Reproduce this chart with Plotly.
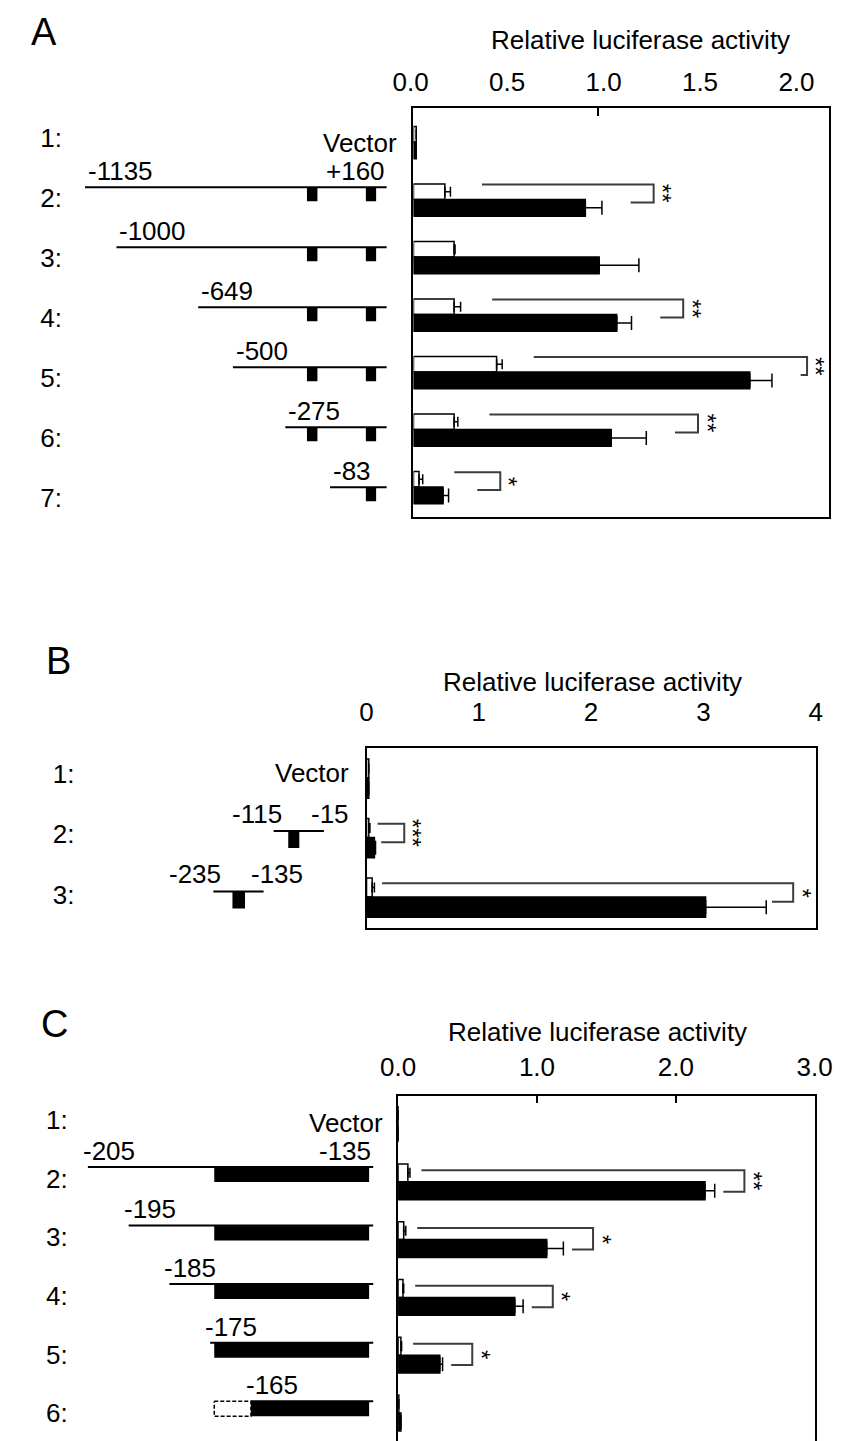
import plotly.graph_objects as go

W, H = 848, 1441
FONT = "Liberation Sans, Arial, sans-serif"

# ---------------- data ----------------
# Panel A
A_rows = [1, 2, 3, 4, 5, 6, 7]
A_row_labels = ["1:", "2:", "3:", "4:", "5:", "6:", "7:"]
A_open = [0.015, 0.17, 0.22, 0.22, 0.45, 0.22, 0.03]
A_open_err = [0.0, 0.03, 0.005, 0.035, 0.03, 0.02, 0.02]
A_black = [0.015, 0.93, 1.005, 1.10, 1.82, 1.07, 0.16]
A_black_err = [0.0, 0.09, 0.215, 0.08, 0.12, 0.19, 0.03]
A_sig_rows = [2, 4, 5, 6, 7]
A_sig_marks = ["**", "**", "**", "**", "*"]
A_construct_rows = [2, 3, 4, 5, 6, 7]
A_construct_start = [-1135, -1000, -649, -500, -275, -83]
A_construct_end = 160
A_element_start = [-182, 71]
A_element_end = [-137, 115]
A_ticks = [0.0, 0.5, 1.0, 1.5, 2.0]
A_tick_labels = ["0.0", "0.5", "1.0", "1.5", "2.0"]

# Panel B
B_rows = [1, 2, 3]
B_row_labels = ["1:", "2:", "3:"]
B_open = [0.02, 0.02, 0.05]
B_open_err = [0.0, 0.01, 0.02]
B_black = [0.02, 0.07, 3.02]
B_black_err = [0.0, 0.01, 0.54]
B_sig_rows = [2, 3]
B_sig_marks = ["***", "*"]
B_construct_rows = [2, 3]
B_construct_start = [-115, -235]
B_construct_end = [-15, -135]
B_element_start = [-86, -197]
B_element_end = [-64, -172]
B_ticks = [0, 1, 2, 3, 4]
B_tick_labels = ["0", "1", "2", "3", "4"]

# Panel C
C_rows = [1, 2, 3, 4, 5, 6]
C_row_labels = ["1:", "2:", "3:", "4:", "5:", "6:"]
C_open = [0.0, 0.07, 0.04, 0.035, 0.02, 0.005]
C_open_err = [0.0, 0.015, 0.015, 0.005, 0.005, 0.0]
C_black = [0.0, 2.21, 1.07, 0.84, 0.30, 0.02]
C_black_err = [0.0, 0.07, 0.12, 0.06, 0.02, 0.0]
C_sig_rows = [2, 3, 4, 5]
C_sig_marks = ["**", "*", "*", "*"]
C_construct_rows = [2, 3, 4, 5, 6]
C_construct_start = [-205, -195, -185, -175, -165]
C_construct_end = -135
C_element_start = -174
C_element_end = -136
C_ticks = [0, 1, 2, 3]
C_tick_labels = ["0.0", "1.0", "2.0", "3.0"]

AXIS_TITLE = "Relative luciferase activity"


def px_x(p):
    return p / W


def px_y(p):
    return 1 - p / H


fig = go.Figure()
annotations = []


def add_bars(xa, ya, rows, opn, opn_err, blk, blk_err, h_open, h_black):
    fig.add_trace(go.Bar(
        orientation="h", y=rows, x=opn, xaxis=xa, yaxis=ya,
        offset=-h_open, width=h_open,
        marker=dict(color="white", line=dict(color="black", width=1.5)),
        error_x=dict(type="data", array=opn_err, arrayminus=[0] * len(rows),
                     symmetric=False, color="black", thickness=1.5, width=5),
        hoverinfo="skip"))
    fig.add_trace(go.Bar(
        orientation="h", y=rows, x=blk, xaxis=xa, yaxis=ya,
        offset=0, width=h_black,
        marker=dict(color="black", line=dict(color="black", width=1.5)),
        error_x=dict(type="data", array=blk_err, arrayminus=[0] * len(rows),
                     symmetric=False, color="black", thickness=1.5, width=7),
        hoverinfo="skip"))


def add_brackets(xa, ya, rows, opn, opn_err, blk, blk_err, sig_rows, sig_marks,
                 ppu, gap_top, gap_right, gap_bot, y_top, y_bot, xcap, star_dx=15):
    xs, ys = [], []
    for r, mark in zip(sig_rows, sig_marks):
        i = rows.index(r)
        ot = opn[i] + opn_err[i]
        bt = blk[i] + blk_err[i]
        xl = ot + gap_top / ppu
        xr = min(bt + gap_right / ppu, xcap)
        xb = bt + gap_bot / ppu
        xs += [xl, xr, xr, xb, None]
        ys += [r + y_top, r + y_top, r + y_bot, r + y_bot, None]
        # stars stacked vertically (text rotated by 90 degrees)
        annotations.append(dict(
            text=mark, x=xr, y=r + (y_top + y_bot) / 2, textangle=90,
            xref=xa, yref=ya, xshift=star_dx - 6, yshift=0,
            showarrow=False, font=dict(size=24, color="black", family=FONT),
            xanchor="center", yanchor="middle"))
    fig.add_trace(go.Scatter(x=xs, y=ys, xaxis=xa, yaxis=ya, mode="lines",
                             line=dict(color="#3c3c3c", width=2),
                             hoverinfo="skip"))


def add_lines(xa, ya, rows, starts, ends, off):
    xs, ys = [], []
    for r, s, e in zip(rows, starts, ends):
        xs += [s, e, None]
        ys += [r + off, r + off, None]
    fig.add_trace(go.Scatter(x=xs, y=ys, xaxis=xa, yaxis=ya, mode="lines",
                             line=dict(color="black", width=2), hoverinfo="skip"))


def add_boxes(xa, ya, rows, bases, lens, off, h):
    fig.add_trace(go.Bar(orientation="h", y=rows, x=lens, base=bases,
                         xaxis=xa, yaxis=ya, offset=off, width=h,
                         marker=dict(color="black", line=dict(width=0)),
                         hoverinfo="skip"))


def label(text, x, y, xref, yref, xanchor, xshift=0, yshift=0, size=26):
    annotations.append(dict(text=text, x=x, y=y, xref=xref, yref=yref,
                            xanchor=xanchor, yanchor="middle", xshift=xshift,
                            yshift=yshift, showarrow=False,
                            font=dict(size=size, color="black", family=FONT)))


# ---------------- Panel A ----------------
add_bars("x2", "y2", A_rows, A_open, A_open_err, A_black, A_black_err, 0.27, 0.29)
add_brackets("x2", "y2", A_rows, A_open, A_open_err, A_black, A_black_err,
             A_sig_rows, A_sig_marks, 193.0, 33, 54, 30, -0.26, 0.05, 2.13)
A_off = -0.18
add_lines("x", "y", A_construct_rows, A_construct_start,
          [A_construct_end] * len(A_construct_rows), A_off)
bx_r, bx_b, bx_l = [], [], []
for r, s in zip(A_construct_rows, A_construct_start):
    for es, ee in zip(A_element_start, A_element_end):
        if s <= es:
            bx_r.append(r); bx_b.append(es); bx_l.append(ee - es)
add_boxes("x", "y", bx_r, bx_b, bx_l, A_off, 0.235)
for r, s in zip(A_construct_rows, A_construct_start):
    label(str(s), s, r + A_off, "x", "y", "left", xshift=1, yshift=16)
label("+%d" % A_construct_end, A_construct_end, A_construct_rows[0] + A_off,
      "x", "y", "right", yshift=16)
label("Vector", px_x(398), 1, "paper", "y", "right", yshift=-5)
# invisible trace for the tick-label axis of panel A
fig.add_trace(go.Scatter(x=[None], y=[None], xaxis="x3", yaxis="y2",
                         mode="markers", hoverinfo="skip"))

# ---------------- Panel B ----------------
add_bars("x5", "y5", B_rows, B_open, B_open_err, B_black, B_black_err, 0.32, 0.34)
add_brackets("x5", "y5", B_rows, B_open, B_open_err, B_black, B_black_err,
             B_sig_rows, B_sig_marks, 117.25, 8, 30, 6, -0.23, 0.08, 3.8)
B_off = -0.05
add_lines("x4", "y4", B_construct_rows, B_construct_start, B_construct_end, B_off)
add_boxes("x4", "y4", B_construct_rows, B_element_start,
          [e - s for s, e in zip(B_element_start, B_element_end)], B_off, 0.28)
for r, s, e in zip(B_construct_rows, B_construct_start, B_construct_end):
    label(str(s), s, r + B_off, "x4", "y4", "right", xshift=10, yshift=17)
    label(str(e), e, r + B_off, "x4", "y4", "left", xshift=-15, yshift=17)
label("Vector", px_x(348), 1, "paper", "y4", "right")

# ---------------- Panel C ----------------
add_bars("x7", "y7", C_rows, C_open, C_open_err, C_black, C_black_err, 0.31, 0.31)
add_brackets("x7", "y7", C_rows, C_open, C_open_err, C_black, C_black_err,
             C_sig_rows, C_sig_marks, 145.0, 12, 31, 9, -0.2, 0.17, 2.9)
C_off = -0.2
add_lines("x6", "y6", C_construct_rows, C_construct_start,
          [C_construct_end] * len(C_construct_rows), C_off)
cb_b, cb_l = [], []
dxs, dys = [], []
C_h = 0.256
for r, s in zip(C_construct_rows, C_construct_start):
    solid_start = max(s, C_element_start)
    cb_b.append(solid_start); cb_l.append(C_element_end - solid_start)
    if s > C_element_start:
        y0, y1 = r + C_off, r + C_off + C_h
        dxs += [C_element_start, s, s, C_element_start, C_element_start, None]
        dys += [y0, y0, y1, y1, y0, None]
add_boxes("x6", "y6", C_construct_rows, cb_b, cb_l, C_off, C_h)
if dxs:
    fig.add_trace(go.Scatter(x=dxs, y=dys, xaxis="x6", yaxis="y6", mode="lines",
                             line=dict(color="black", width=1.5, dash="4px,2px"),
                             hoverinfo="skip"))
for r, s in zip(C_construct_rows, C_construct_start):
    label(str(s), s, r + C_off, "x6", "y6", "left", xshift=-7, yshift=16)
label(str(C_construct_end), C_construct_end, C_construct_rows[0] + C_off,
      "x6", "y6", "right", yshift=16)
label("Vector", px_x(383), 1, "paper", "y6", "right", yshift=-3)

# ---------------- panel letters and axis titles ----------------
for t, cx, cy in [("A", 27, 32), ("B", 42, 661), ("C", 38, 1024)]:
    annotations.append(dict(text=t, x=px_x(cx), y=px_y(cy), xref="paper",
                            yref="paper", xanchor="center", yanchor="middle",
                            showarrow=False,
                            font=dict(size=38, color="black", family=FONT)))
for cx, cy in [(650, 40), (600, 682), (605, 1032)]:
    annotations.append(dict(text=AXIS_TITLE, x=px_x(cx), y=px_y(cy), xref="paper",
                            yref="paper", xanchor="center", yanchor="middle",
                            showarrow=False,
                            font=dict(size=26, color="black", family=FONT)))

# ---------------- axes ----------------
hidden = dict(showline=False, showgrid=False, zeroline=False,
              showticklabels=False, ticks="")
rowlab = dict(showline=False, showgrid=False, zeroline=False, ticks="",
              tickfont=dict(size=26, color="black", family=FONT))
frame = dict(showline=True, linecolor="black", linewidth=1.5, showgrid=False,
             zeroline=False)

A_dom = [px_y(517), px_y(108)]
B_dom = [px_y(928), px_y(748)]
C_dom = [0, px_y(1096)]

fig.update_layout(
    width=W, height=H, margin=dict(l=0, r=0, t=0, b=0),
    paper_bgcolor="white", plot_bgcolor="rgba(0,0,0,0)",
    showlegend=False, barmode="overlay",
    font=dict(family=FONT, color="black", size=26),
    # Panel A
    xaxis=dict(domain=[px_x(47), px_x(407)], range=[-1229.6, 250.7], anchor="y", **hidden),
    yaxis=dict(domain=A_dom, range=[7.317, 0.5], anchor="x", tickvals=A_rows,
               ticktext=A_row_labels, **rowlab),
    xaxis2=dict(domain=[px_x(413), px_x(847)], range=[0, 2.249], anchor="y2",
                side="top", mirror=True, ticks="inside", tickvals=[1.0],
                ticklen=8, tickwidth=1.5, tickcolor="black",
                showticklabels=False, **frame),
    yaxis2=dict(domain=A_dom, range=[7.52, 0.409], anchor="x2", mirror=True,
                ticks="", showticklabels=False, **frame),
    xaxis3=dict(domain=[px_x(405), px_x(848)], range=[-0.0248, 2.1737],
                anchor="free", position=px_y(108), side="top", showline=False,
                showgrid=False, zeroline=False, ticks="", tickvals=A_ticks,
                ticktext=A_tick_labels, ticklabelstandoff=12,
                tickfont=dict(size=26, color="black", family=FONT)),
    # Panel B
    xaxis4=dict(domain=[px_x(60), px_x(355)], range=[-509.3, 52.6], anchor="y4", **hidden),
    yaxis4=dict(domain=B_dom, range=[3.554, 0.579], anchor="x4", tickvals=B_rows,
                ticktext=B_row_labels, **rowlab),
    xaxis5=dict(domain=[px_x(364), px_x(833)], range=[0, 4], anchor="y5",
                side="top", mirror=True, ticks="", tickvals=B_ticks,
                ticktext=B_tick_labels, ticklabelstandoff=15,
                tickfont=dict(size=26, color="black", family=FONT), **frame),
    yaxis5=dict(domain=B_dom, range=[3.52, 0.496], anchor="x5", mirror=True,
                ticks="", showticklabels=False, **frame),
    # Panel C
    xaxis6=dict(domain=[px_x(53), px_x(385)], range=[-209.7, -131.7], anchor="y6", **hidden),
    yaxis6=dict(domain=C_dom, range=[6.478, 0.59], anchor="x6", tickvals=C_rows,
                ticktext=C_row_labels, **rowlab),
    xaxis7=dict(domain=[px_x(397), px_x(832)], range=[0, 3], anchor="y7",
                side="top", mirror=False, ticks="inside", ticklen=7,
                tickwidth=1.5, tickcolor="black", tickvals=C_ticks,
                ticktext=C_tick_labels, ticklabelstandoff=8,
                tickfont=dict(size=26, color="black", family=FONT), **frame),
    yaxis7=dict(domain=C_dom, range=[6.485, 0.515], anchor="x7", mirror=True,
                ticks="", showticklabels=False, **frame),
    annotations=annotations,
)

fig.write_html("out.html")
